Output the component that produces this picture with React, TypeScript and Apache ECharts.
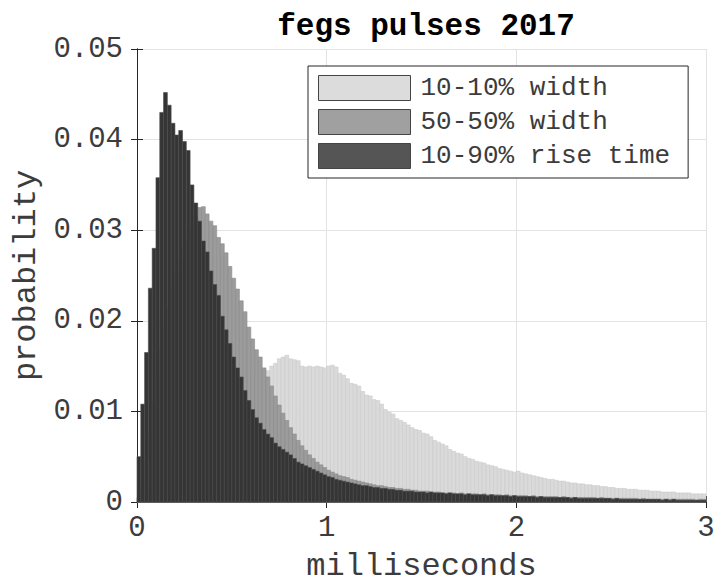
import React, { useEffect, useRef } from "react";
import * as echarts from "echarts";

const BIN = 0.02;
const seriesNames = ["10-10% width", "50-50% width", "10-90% rise time"];
const xTicks = [0, 1, 2, 3];
const yTicks = [0, 0.01, 0.02, 0.03, 0.04, 0.05];

const width1010 = [
  0.0002, 0.0005, 0.001, 0.0015, 0.002, 0.0028, 0.0035, 0.0042, 0.005, 0.0057,
  0.0064, 0.007, 0.0076, 0.0082, 0.0088, 0.0093, 0.0098, 0.0103, 0.0108, 0.0112,
  0.0116, 0.012, 0.0124, 0.0127, 0.013, 0.0132, 0.0134, 0.0136, 0.0138, 0.014,
  0.0141, 0.0142, 0.0143, 0.0144, 0.0145, 0.015, 0.0153, 0.0158, 0.016, 0.0162,
  0.0158, 0.0157, 0.0156, 0.015, 0.0149, 0.015, 0.0149, 0.015, 0.0149, 0.0148,
  0.015, 0.0151, 0.0149, 0.0142, 0.014, 0.0136, 0.0131, 0.013, 0.0128, 0.0122,
  0.0118, 0.0117, 0.0113, 0.0112, 0.0108, 0.0102, 0.0099, 0.0097, 0.0092, 0.009,
  0.0088, 0.0085, 0.0082, 0.008, 0.0079, 0.0076, 0.0075, 0.0072, 0.0068, 0.0066,
  0.0064, 0.0062, 0.0058, 0.0056, 0.0054, 0.0053, 0.005, 0.0048, 0.0047, 0.0045,
  0.0044, 0.0043, 0.0041, 0.004, 0.0039, 0.0037, 0.0036, 0.0035, 0.0034, 0.0033,
  0.0034, 0.0032, 0.0031, 0.003, 0.0029, 0.0028, 0.0027, 0.0026, 0.0025, 0.0025,
  0.0024, 0.0023, 0.0023, 0.0022, 0.0021, 0.0021, 0.002, 0.002, 0.0019, 0.0019,
  0.0018, 0.0018, 0.0017, 0.0017, 0.0016, 0.0016, 0.0015, 0.0015, 0.0015, 0.0014,
  0.0014, 0.0014, 0.0013, 0.0013, 0.0013, 0.0012, 0.0012, 0.0012, 0.0011, 0.0011,
  0.0011, 0.0011, 0.001, 0.001, 0.001, 0.001, 0.0009, 0.0009, 0.0009, 0.0009,
];

const width5050 = [
  0.0005, 0.002, 0.0045, 0.0075, 0.011, 0.014, 0.017, 0.0195, 0.0215, 0.0235,
  0.025, 0.0265, 0.0278, 0.029, 0.0303, 0.0315, 0.0325, 0.0326, 0.0318, 0.031,
  0.0305, 0.0292, 0.0285, 0.0275, 0.026, 0.0247, 0.0235, 0.0222, 0.021, 0.0193,
  0.018, 0.0168, 0.016, 0.0148, 0.0138, 0.0128, 0.0117, 0.0107, 0.0098, 0.009,
  0.0082, 0.0075, 0.0068, 0.0062, 0.0057, 0.0052, 0.0048, 0.0044, 0.0041, 0.0038,
  0.0035, 0.0033, 0.0031, 0.0029, 0.0028, 0.0027, 0.0025, 0.0024, 0.0023, 0.0022,
  0.0021, 0.002, 0.0019, 0.0018, 0.0018, 0.0017, 0.0016, 0.0016, 0.0015, 0.0015,
  0.0014, 0.0014, 0.0013, 0.0013, 0.0012, 0.0012, 0.0012, 0.0011, 0.0011, 0.0011,
  0.001, 0.001, 0.001, 0.001, 0.0009, 0.001, 0.0009, 0.0009, 0.0009, 0.0009,
  0.0008, 0.0009, 0.0008, 0.0008, 0.0008, 0.0008, 0.0007, 0.0008, 0.0007, 0.0007,
  0.0007, 0.0007, 0.0007, 0.0006, 0.0007, 0.0006, 0.0006, 0.0006, 0.0006, 0.0006,
  0.0006, 0.0005, 0.0006, 0.0005, 0.0005, 0.0005, 0.0005, 0.0005, 0.0005, 0.0005,
  0.0005, 0.0004, 0.0005, 0.0004, 0.0004, 0.0004, 0.0004, 0.0004, 0.0004, 0.0004,
  0.0004, 0.0004, 0.0003, 0.0004, 0.0003, 0.0003, 0.0003, 0.0003, 0.0003, 0.0003,
  0.0003, 0.0003, 0.0003, 0.0003, 0.0003, 0.0003, 0.0003, 0.0002, 0.0003, 0.0003,
];

const riseTime = [
  0.005, 0.0108, 0.0165, 0.0236, 0.028, 0.0358, 0.043, 0.0452, 0.0438, 0.0418,
  0.0405, 0.041, 0.0398, 0.0388, 0.035, 0.033, 0.031, 0.0288, 0.0276, 0.0255,
  0.024, 0.0228, 0.0205, 0.019, 0.0175, 0.016, 0.0148, 0.0138, 0.0123, 0.0112,
  0.0102, 0.0093, 0.0087, 0.008, 0.0075, 0.0071, 0.0065, 0.0061, 0.0058, 0.0055,
  0.0052, 0.0048, 0.0044, 0.0042, 0.004, 0.0038, 0.0036, 0.0034, 0.0032, 0.003,
  0.0028, 0.0027, 0.0025, 0.0024, 0.0023, 0.0022, 0.0021, 0.002, 0.0019, 0.0018,
  0.0018, 0.0017, 0.0016, 0.0016, 0.0015, 0.0015, 0.0014, 0.0014, 0.0013, 0.0013,
  0.0012, 0.0012, 0.0012, 0.0011, 0.0011, 0.0011, 0.001, 0.0011, 0.001, 0.001,
  0.001, 0.0009, 0.001, 0.0009, 0.0009, 0.0009, 0.0008, 0.0009, 0.0008, 0.0008,
  0.0008, 0.0008, 0.0007, 0.0008, 0.0007, 0.0007, 0.0007, 0.0007, 0.0006, 0.0007,
  0.0006, 0.0006, 0.0006, 0.0006, 0.0006, 0.0005, 0.0006, 0.0005, 0.0005, 0.0005,
  0.0005, 0.0005, 0.0005, 0.0005, 0.0004, 0.0005, 0.0004, 0.0004, 0.0004, 0.0004,
  0.0004, 0.0004, 0.0004, 0.0004, 0.0004, 0.0003, 0.0004, 0.0003, 0.0003, 0.0003,
  0.0003, 0.0003, 0.0003, 0.0003, 0.0003, 0.0003, 0.0003, 0.0003, 0.0002, 0.0003,
  0.0002, 0.0003, 0.0002, 0.0002, 0.0002, 0.0002, 0.0002, 0.0002, 0.0002, 0.0002,
];

const FONT = "'Courier New', 'Liberation Mono', monospace";
const TEXT = "#3c3c3c";

export default function App() {
  const ref = useRef<HTMLDivElement>(null);

  useEffect(() => {
    document.body.style.margin = "0";
    const chart = echarts.init(ref.current!, null, { renderer: "svg" });

    const fills = ["#dadada", "#9c9c9c", "#353535"];
    const strokes = ["#cbcbcb", "#8a8a8a", "#4a4a4a"];
    const legendColors = ["#dcdcdc", "#a0a0a0", "#555555"];
    const values = [width1010, width5050, riseTime];

    const series = values.map((vals, si) => ({
      type: "custom",
      name: seriesNames[si],
      xAxisIndex: 0,
      yAxisIndex: 0,
      z: 2 + si,
      itemStyle: { color: fills[si] },
      encode: { x: 0, y: 1 },
      data: vals.map((v, i) => [i * BIN, v]),
      renderItem: (params: any, api: any) => {
        const x0 = api.value(0);
        const y = api.value(1);
        const p0 = api.coord([x0, y]);
        const p1 = api.coord([x0 + BIN, 0]);
        return {
          type: "rect",
          shape: { x: p0[0], y: p0[1], width: p1[0] - p0[0], height: p1[1] - p0[1] },
          style: { fill: fills[si], stroke: strokes[si], lineWidth: 0.6 },
        };
      },
    }));

    const axisLine = { show: true, lineStyle: { color: "#262626", width: 1 } };
    const tick = { show: true, inside: true, length: 6, lineStyle: { color: "#262626" } };

    chart.setOption({
      animation: false,
      backgroundColor: "#ffffff",
      title: {
        text: "fegs pulses 2017",
        left: 421,
        top: 6,
        textAlign: "center",
        textStyle: { fontFamily: FONT, fontSize: 31, fontWeight: "bold", color: "#000" },
      },
      legend: {
        orient: "vertical",
        left: 308,
        top: 66,
        padding: [9, 18, 9, 10],
        itemWidth: 92,
        itemHeight: 25,
        itemGap: 8,
        backgroundColor: "#ffffff",
        borderColor: "#262626",
        borderWidth: 1,
        icon: "rect",
        textStyle: { fontFamily: FONT, fontSize: 26, color: TEXT, padding: [0, 0, 0, 5] },
        data: seriesNames.map((n, i) => ({
          name: n,
          itemStyle: { color: legendColors[i], borderColor: "#444", borderWidth: 1 },
        })),
      },
      grid: { left: 137, right: 11, top: 49, bottom: 81, containLabel: false, outerBoundsMode: "none" },
      xAxis: [
        {
          type: "value",
          min: xTicks[0],
          max: xTicks[xTicks.length - 1],
          interval: 1,
          position: "bottom",
          name: "milliseconds",
          nameLocation: "middle",
          nameGap: 48,
          nameTextStyle: { fontFamily: FONT, fontSize: 32, color: TEXT },
          axisLine,
          axisTick: tick,
          axisLabel: { fontFamily: FONT, fontSize: 29, color: TEXT, margin: 12 },
          splitLine: { show: true, lineStyle: { color: "#e3e3e3", width: 1 } },
        },
        {
          type: "value",
          min: xTicks[0],
          max: xTicks[xTicks.length - 1],
          interval: 1,
          position: "top",
          axisLine,
          axisTick: tick,
          axisLabel: { show: false },
          splitLine: { show: false },
        },
      ],
      yAxis: [
        {
          type: "value",
          min: yTicks[0],
          max: yTicks[yTicks.length - 1],
          interval: 0.01,
          position: "left",
          name: "probability",
          nameLocation: "middle",
          nameGap: 90,
          nameTextStyle: { fontFamily: FONT, fontSize: 32, color: TEXT },
          axisLine,
          axisTick: tick,
          axisLabel: { fontFamily: FONT, fontSize: 29, color: TEXT, margin: 14 },
          splitLine: { show: true, lineStyle: { color: "#e3e3e3", width: 1 } },
        },
        {
          type: "value",
          min: yTicks[0],
          max: yTicks[yTicks.length - 1],
          interval: 0.01,
          position: "right",
          axisLine,
          axisTick: tick,
          axisLabel: { show: false },
          splitLine: { show: false },
        },
      ],
      series,
    });

    return () => chart.dispose();
  }, []);

  return <div ref={ref} style={{ width: 717, height: 583 }} />;
}
